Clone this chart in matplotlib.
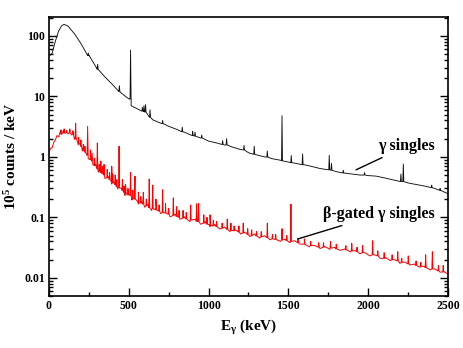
"""Gamma singles vs beta-gated gamma singles spectrum."""

import numpy as np
import matplotlib
matplotlib.use("Agg")
import matplotlib.pyplot as plt
import matplotlib.ticker as mticker

plt.rcParams["font.family"] = ["Liberation Serif", "DejaVu Serif"]
plt.rcParams["font.weight"] = "bold"
plt.rcParams["mathtext.fontset"] = "custom"
plt.rcParams["mathtext.rm"] = "Liberation Serif:bold"
plt.rcParams["mathtext.it"] = "Liberation Serif:bold"
plt.rcParams["mathtext.bf"] = "Liberation Serif:bold"

# ── data (E in keV, counts in 1e5 / keV) ────────────────────────────────────

# gamma singles: continuum
G_E = [0, 10, 20, 40, 60, 80, 95, 120, 160, 200, 250, 300, 350, 400, 450,
       490, 505, 515, 550, 600, 650, 700, 750, 800, 850, 900, 950, 1000,
       1050, 1100, 1150, 1200, 1250, 1300, 1350, 1400, 1450, 1500, 1550,
       1600, 1650, 1700, 1750, 1800, 1850, 1900, 1950, 2000, 2050, 2100,
       2150, 2200, 2250, 2300, 2350, 2400, 2450, 2500]
G_Y = [50, 48, 52, 82, 120, 148, 155, 145, 108, 75, 48, 29, 21, 15.5, 11.5,
       9.5, 9.0, 7.0, 6.3, 5.5, 4.1, 3.6, 3.2, 2.85, 2.55, 2.25, 2.05, 1.82,
       1.7, 1.57, 1.45, 1.32, 1.17, 1.08, 1.0, 0.93, 0.88, 0.82, 0.78,
       0.74, 0.69, 0.64, 0.61, 0.57, 0.54, 0.52, 0.5, 0.49, 0.48, 0.45,
       0.42, 0.39, 0.37, 0.35, 0.33, 0.31, 0.28, 0.245]

# gamma singles: peaks (energy, top, base)
G_PK_E = [246, 305, 441, 511, 585, 595, 605, 633, 712, 835, 900, 915, 957,
          1088, 1113, 1222, 1286, 1368, 1460, 1518, 1589, 1756, 1770, 1844,
          1977, 2205, 2220, 2398, 2450]
G_PK_TOP = [52, 34, 15, 58, 6.6, 7.0, 7.3, 6.0, 4.0, 3.1, 2.65, 2.55, 2.3,
            1.85, 2.0, 1.55, 1.5, 1.25, 4.8, 1.05, 1.12, 1.06, 0.78, 0.6,
            0.55, 0.52, 0.76, 0.34, 0.3]
G_PK_BASE = [47, 28, 12, 9.0, 5.7, 5.6, 5.5, 4.5, 3.55, 2.6, 2.25, 2.2, 2.05,
             1.6, 1.57, 1.3, 1.1, 0.99, 0.86, 0.8, 0.74, 0.61, 0.6, 0.54,
             0.5, 0.39, 0.39, 0.31, 0.28]

# beta-gated gamma singles: continuum (noisy)
B_E = [0, 10, 20, 30, 40, 50, 60, 70, 80, 90, 100, 110, 120, 130, 142, 150,
       160, 172, 184, 197, 210, 228, 246, 260, 275, 292, 309, 330, 350, 372,
       393, 410, 430, 453, 476, 498, 520, 540, 560, 580, 600, 620, 643, 670,
       700, 730, 758, 790, 820, 850, 883, 915, 950, 980, 1009, 1040, 1070,
       1100, 1134, 1165, 1200, 1230, 1259, 1290, 1320, 1350, 1385, 1420,
       1450, 1480, 1510, 1540, 1573, 1600, 1630, 1660, 1698, 1730, 1760,
       1790, 1823, 1855, 1890, 1920, 1949, 1980, 2010, 2040, 2074, 2105,
       2140, 2170, 2199, 2230, 2260, 2290, 2325, 2355, 2390, 2420, 2450,
       2475, 2500]
B_Y = [1.2, 1.38, 1.42, 1.75, 1.9, 2.25, 2.15, 2.55, 2.35, 2.7, 2.45, 2.7, 2.4,
       2.65, 2.3, 2.45, 1.95, 2.0, 1.58, 1.62, 1.25, 1.28, 0.93, 0.98, 0.74,
       0.76, 0.56, 0.59, 0.44, 0.47, 0.355, 0.38, 0.295, 0.3, 0.23, 0.25,
       0.193, 0.21, 0.166, 0.182, 0.147, 0.162, 0.13, 0.142, 0.115, 0.127,
       0.102, 0.113, 0.093, 0.102, 0.085, 0.093, 0.077, 0.085, 0.07, 0.076,
       0.064, 0.069, 0.058, 0.063, 0.053, 0.057, 0.048, 0.053, 0.0455,
       0.0495, 0.0425, 0.046, 0.040, 0.0435, 0.038, 0.041, 0.036, 0.0378,
       0.0325, 0.0345, 0.0305, 0.0328, 0.0295, 0.0318, 0.0285, 0.030,
       0.0268, 0.028, 0.0249, 0.026, 0.023, 0.0239, 0.021, 0.0218,
       0.0192, 0.0198, 0.0173, 0.0182, 0.0163, 0.0169, 0.0149, 0.0154,
       0.0135, 0.0139, 0.0124, 0.0126, 0.0115]

# beta-gated gamma singles: peaks (energy, top, base)
B_PK_E = [75, 95, 110, 130, 150, 167, 185, 200, 215, 225, 242, 260, 270, 285,
          303, 315, 325, 335, 345, 365, 380, 393, 400, 415, 425, 439, 460,
          470, 480, 495, 511, 525, 539, 560, 575, 591, 610, 628, 650, 670,
          690, 712, 730, 750, 779, 800, 815, 840, 860, 888, 925, 937, 970,
          990, 1009, 1030, 1050, 1085, 1117, 1140, 1160, 1190, 1217, 1245,
          1270, 1300, 1330, 1368, 1400, 1420, 1460, 1490, 1516, 1560, 1600,
          1640, 1690, 1720, 1764, 1800, 1860, 1897, 1930, 1965, 2028, 2060,
          2100, 2150, 2185, 2210, 2251, 2300, 2330, 2360, 2402, 2440, 2470]
B_PK_TOP = [2.8, 2.9, 2.75, 2.9, 2.7, 3.6, 2.1, 1.9, 1.6, 1.5, 3.2, 1.3, 1.15,
            0.95, 1.7, 0.75, 0.85, 0.7, 0.75, 0.62, 0.55, 0.7, 0.52, 0.5,
            0.42, 1.5, 0.42, 0.33, 0.35, 0.3, 0.55, 0.28, 0.48, 0.26, 0.22,
            0.26, 0.2, 0.43, 0.34, 0.2, 0.16, 0.285, 0.17, 0.14, 0.21, 0.15,
            0.13, 0.13, 0.12, 0.16, 0.167, 0.17, 0.11, 0.1, 0.11, 0.09, 0.085,
            0.08, 0.094, 0.08, 0.072, 0.072, 0.08, 0.065, 0.062, 0.058,
            0.058, 0.08, 0.052, 0.052, 0.065, 0.05, 0.165, 0.045, 0.044,
            0.04, 0.038, 0.038, 0.04, 0.036, 0.034, 0.037, 0.032, 0.034,
            0.041, 0.028, 0.026, 0.024, 0.027, 0.021, 0.023, 0.019, 0.018,
            0.024, 0.027, 0.016, 0.016]
B_PK_BASE = [2.4, 2.5, 2.5, 2.5, 2.35, 2.0, 1.65, 1.5, 1.3, 1.2, 1.05, 0.9,
             0.85, 0.72, 0.63, 0.58, 0.55, 0.53, 0.5, 0.45, 0.42, 0.39,
             0.37, 0.35, 0.32, 0.31, 0.28, 0.26, 0.25, 0.235, 0.23, 0.205,
             0.2, 0.18, 0.172, 0.165, 0.155, 0.145, 0.14, 0.133, 0.127,
             0.12, 0.118, 0.112, 0.107, 0.103, 0.1, 0.097, 0.094, 0.09,
             0.086, 0.085, 0.08, 0.077, 0.075, 0.072, 0.07, 0.066, 0.063,
             0.061, 0.06, 0.057, 0.055, 0.052, 0.05, 0.049, 0.048, 0.046,
             0.044, 0.043, 0.042, 0.041, 0.04, 0.038, 0.036, 0.034, 0.032,
             0.032, 0.031, 0.03, 0.029, 0.028, 0.027, 0.026, 0.024, 0.023,
             0.021, 0.02, 0.019, 0.018, 0.017, 0.016, 0.0155, 0.0148, 0.014,
             0.013, 0.0125]

X_TICKS = [0, 500, 1000, 1500, 2000, 2500]
Y_TICKS = [0.01, 0.1, 1, 10, 100]
Y_TICK_LABELS = ["0.01", "0.1", "1", "10", "100"]

HALF_W = 3.0  # keV, half width of a drawn peak


def spectrum(cont_e, cont_y, pk_e, pk_top, pk_base):
    pts = list(zip(cont_e, cont_y))
    for e, top, base in zip(pk_e, pk_top, pk_base):
        pts += [(e - HALF_W, base), (e, top), (e + HALF_W, base)]
    pts.sort(key=lambda p: p[0])
    arr = np.array(pts)
    return arr[:, 0], arr[:, 1]


fig = plt.figure(figsize=(4.63, 3.48), dpi=100)
ax = fig.add_axes([0.1058, 0.1494, 0.8618, 0.8016])

ge, gy = spectrum(G_E, G_Y, G_PK_E, G_PK_TOP, G_PK_BASE)
be, by = spectrum(B_E, B_Y, B_PK_E, B_PK_TOP, B_PK_BASE)
ax.plot(ge, gy, color="#111111", lw=0.65)
ax.plot(be, by, color="red", lw=0.7)

ax.set_yscale("log")
ax.set_xlim(0, 2500)
ax.set_ylim(0.005, 205)
ax.set_xticks(X_TICKS)
ax.xaxis.set_minor_locator(mticker.MultipleLocator(250))
ax.set_yticks(Y_TICKS)
ax.set_yticklabels(Y_TICK_LABELS)
ax.yaxis.set_minor_locator(mticker.LogLocator(base=10, subs=np.arange(2, 10)))
ax.yaxis.set_minor_formatter(mticker.NullFormatter())
ax.tick_params(which="both", direction="in", top=False, right=True,
               labelsize=8.5, width=1.0)
ax.tick_params(which="major", length=5.5, pad=3)
ax.tick_params(which="minor", length=3)
for sp in ax.spines.values():
    sp.set_linewidth(1.2)

ax.set_xlabel("E$_{γ}$ (keV)", fontsize=11, fontweight="bold", labelpad=4)
ax.set_ylabel("10$^{5}$ counts / keV", fontsize=11, fontweight="bold",
              labelpad=4)

ax.annotate("γ singles", xy=(1924, 0.61), xytext=(2061, 1.5),
            fontsize=11.5, fontweight="bold", va="center", ha="left",
            arrowprops=dict(arrowstyle="-", color="black", lw=1.0,
                            shrinkA=1, shrinkB=0))
ax.annotate("β-gated γ singles", xy=(1560, 0.044), xytext=(1717, 0.112),
            fontsize=11.5, fontweight="bold", va="center", ha="left",
            arrowprops=dict(arrowstyle="-", color="black", lw=1.0,
                            shrinkA=1, shrinkB=0))

fig.savefig("out.png", dpi=100)
